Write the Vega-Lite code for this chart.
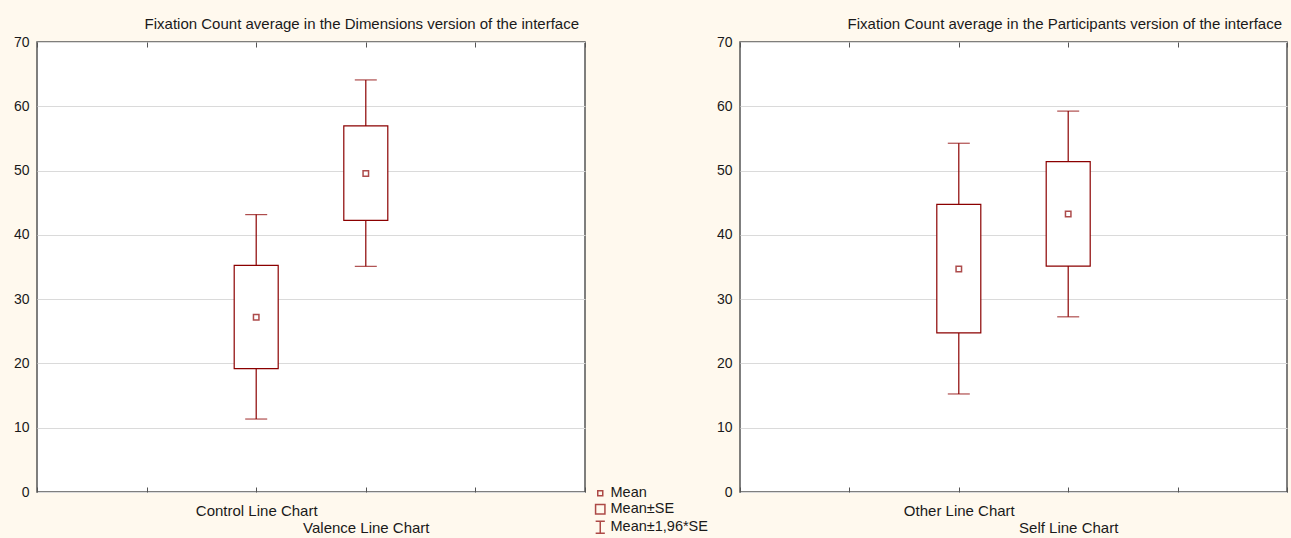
{
  "$schema": "https://vega.github.io/schema/vega-lite/v6.json",
  "background": "#FFF9EE",
  "padding": {"left": 12, "top": 15, "right": 2, "bottom": 2},
  "spacing": 155,
  "bounds": "flush",
  "config": {
    "font": "Liberation Sans",
    "view": {"fill": "white", "stroke": "#555555", "strokeWidth": 1.5},
    "axis": {"labelFont": "Liberation Sans", "labelFontSize": 14, "labelColor": "#1a1a1a", "domain": false, "gridColor": "#dadada", "gridWidth": 1},
    "title": {"font": "Liberation Sans", "fontSize": 15, "fontWeight": "normal", "color": "#1a1a1a", "anchor": "end"},
    "legend": {"orient": "none", "legendX": 556, "legendY": 444, "padding": 0, "labelFont": "Liberation Sans", "labelFontSize": 14.5, "labelColor": "#1a1a1a", "labelOffset": 3, "rowPadding": 1, "symbolStrokeWidth": 1.5, "symbolStrokeColor": "#8B0000", "symbolFillColor": "white"}
  },
  "hconcat": [
    {
      "width": 548,
      "height": 450,
      "view": {"fill": "white", "stroke": "#555555", "strokeWidth": 1.5},
      "title": {"text": "Fixation Count average in the Dimensions version of the interface", "anchor": "end", "frame": "group", "dx": -6, "baseline": "alphabetic", "offset": -8.5},
      "data": {"values": [
        {"cat": "Control Line Chart", "mean": 27.2, "se_lo": 19.2, "se_hi": 35.25, "ci_lo": 11.35, "ci_hi": 43.15},
        {"cat": "Valence Line Chart", "mean": 49.55, "se_lo": 42.25, "se_hi": 56.95, "ci_lo": 35.1, "ci_hi": 64.1}
      ]},
      "resolve": {"axis": {"x": "independent"}},
      "layer": [
        {
          "mark": {"type": "rule", "color": "#8B0000", "strokeWidth": 1.2},
          "encoding": {
            "x": {"field": "cat", "type": "nominal", "scale": {"type": "point", "padding": 0, "domain": [" ", "  ", "Control Line Chart", "Valence Line Chart", "   ", "    "]},
                  "axis": {"orient": "bottom", "title": null, "labelAngle": 0, "labelOverlap": false, "labelPadding": 16, "labelFontSize": 15, "labelLineHeight": 17, "tickSize": -5, "tickColor": "#555555", "grid": false,
                           "labelExpr": "datum.value == 'Valence Line Chart' ? ['', datum.value] : datum.value"}},
            "y": {"field": "ci_lo", "type": "quantitative", "scale": {"domain": [0, 70], "nice": false},
                  "axis": {"title": null, "ticks": false, "labelPadding": 8, "values": [0, 10, 20, 30, 40, 50, 60, 70], "grid": true}},
            "y2": {"field": "ci_hi"}
          }
        },
        {
          "mark": {"type": "bar", "size": 44, "fill": "white", "stroke": "#8B0000", "strokeWidth": 1.2},
          "encoding": {
            "x": {"field": "cat", "type": "nominal", "axis": {"orient": "top", "title": null, "labels": false, "tickSize": -5, "tickColor": "#555555", "grid": false}},
            "y": {"field": "se_lo", "type": "quantitative"},
            "y2": {"field": "se_hi"}
          }
        },
        {
          "mark": {"type": "tick", "orient": "horizontal", "size": 22, "thickness": 1.2, "color": "#8B0000"},
          "encoding": {
            "x": {"field": "cat", "type": "nominal", "axis": null},
            "y": {"field": "ci_lo", "type": "quantitative"}
          }
        },
        {
          "mark": {"type": "tick", "orient": "horizontal", "size": 22, "thickness": 1.2, "color": "#8B0000"},
          "encoding": {
            "x": {"field": "cat", "type": "nominal", "axis": null},
            "y": {"field": "ci_hi", "type": "quantitative"}
          }
        },
        {
          "mark": {"type": "point", "shape": "square", "size": 30, "filled": false, "fill": "white", "color": "#8B0000", "strokeWidth": 1.5},
          "encoding": {
            "x": {"field": "cat", "type": "nominal", "axis": null},
            "y": {"field": "mean", "type": "quantitative"}
          }
        }
      ]
    },
    {
      "width": 547,
      "height": 450,
      "view": {"fill": "white", "stroke": "#555555", "strokeWidth": 1.5},
      "title": {"text": "Fixation Count average in the Participants version of the interface", "anchor": "end", "frame": "group", "dx": -5, "baseline": "alphabetic", "offset": -8.5},
      "data": {"values": [
        {"cat": "Other Line Chart", "mean": 34.7, "se_lo": 24.75, "se_hi": 44.75, "ci_lo": 15.25, "ci_hi": 54.25, "item": "Mean"},
        {"cat": "Self Line Chart", "mean": 43.25, "se_lo": 35.15, "se_hi": 51.4, "ci_lo": 27.25, "ci_hi": 59.25, "item": "Mean"}
      ]},
      "resolve": {"axis": {"x": "independent"}},
      "layer": [
        {
          "mark": {"type": "rule", "color": "#8B0000", "strokeWidth": 1.2},
          "encoding": {
            "x": {"field": "cat", "type": "nominal", "scale": {"type": "point", "padding": 0, "domain": [" ", "  ", "Other Line Chart", "Self Line Chart", "   ", "    "]},
                  "axis": {"orient": "bottom", "title": null, "labelAngle": 0, "labelOverlap": false, "labelPadding": 16, "labelFontSize": 15, "labelLineHeight": 17, "tickSize": -5, "tickColor": "#555555", "grid": false,
                           "labelExpr": "datum.value == 'Self Line Chart' ? ['', datum.value] : datum.value"}},
            "y": {"field": "ci_lo", "type": "quantitative", "scale": {"domain": [0, 70], "nice": false},
                  "axis": {"title": null, "ticks": false, "labelPadding": 8, "values": [0, 10, 20, 30, 40, 50, 60, 70], "grid": true}},
            "y2": {"field": "ci_hi"}
          }
        },
        {
          "mark": {"type": "bar", "size": 44, "fill": "white", "stroke": "#8B0000", "strokeWidth": 1.2},
          "encoding": {
            "x": {"field": "cat", "type": "nominal", "axis": {"orient": "top", "title": null, "labels": false, "tickSize": -5, "tickColor": "#555555", "grid": false}},
            "y": {"field": "se_lo", "type": "quantitative"},
            "y2": {"field": "se_hi"}
          }
        },
        {
          "mark": {"type": "tick", "orient": "horizontal", "size": 22, "thickness": 1.2, "color": "#8B0000"},
          "encoding": {
            "x": {"field": "cat", "type": "nominal", "axis": null},
            "y": {"field": "ci_lo", "type": "quantitative"}
          }
        },
        {
          "mark": {"type": "tick", "orient": "horizontal", "size": 22, "thickness": 1.2, "color": "#8B0000"},
          "encoding": {
            "x": {"field": "cat", "type": "nominal", "axis": null},
            "y": {"field": "ci_hi", "type": "quantitative"}
          }
        },
        {
          "mark": {"type": "point", "shape": "square", "size": 30, "filled": false, "fill": "white", "color": "#8B0000", "strokeWidth": 1.5},
          "encoding": {
            "x": {"field": "cat", "type": "nominal", "axis": null},
            "y": {"field": "mean", "type": "quantitative"}
          }
        },
        {
          "transform": [{"filter": "false"}],
          "mark": {"type": "point", "filled": false, "color": "#8B0000", "strokeWidth": 1.5},
          "encoding": {
            "x": {"field": "cat", "type": "nominal", "axis": null},
            "y": {"field": "mean", "type": "quantitative"},
            "shape": {"field": "item", "type": "nominal", "title": null,
                      "scale": {"domain": ["Mean", "Mean±SE", "Mean±1,96*SE"], "range": ["square", "square", "M-0.75,-1H0.75M0,-1V1M-0.75,1H0.75"]}},
            "size": {"field": "item", "type": "nominal", "title": null,
                     "scale": {"domain": ["Mean", "Mean±SE", "Mean±1,96*SE"], "range": [25, 150, 150]}}
          }
        }
      ]
    }
  ]
}
